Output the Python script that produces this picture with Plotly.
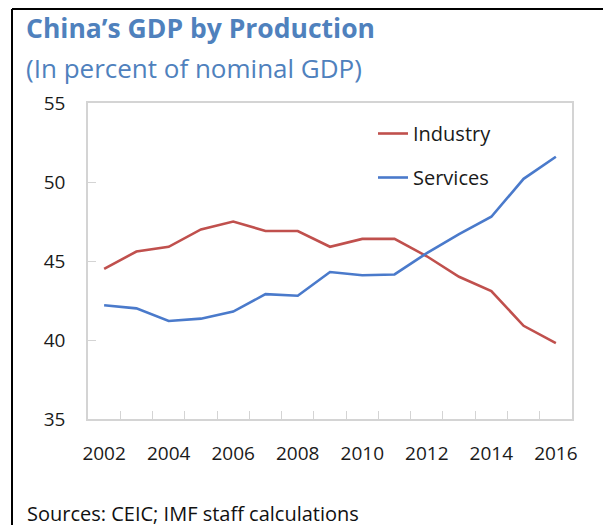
import plotly.graph_objects as go

years = list(range(2002, 2017))
industry = [44.5, 45.6, 45.9, 47.0, 47.5, 46.9, 46.9, 45.9, 46.4, 46.4, 45.3, 44.0, 43.1, 40.9, 39.8]
services = [42.2, 42.0, 41.2, 41.35, 41.8, 42.9, 42.8, 44.3, 44.1, 44.15, 45.5, 46.7, 47.8, 50.2, 51.6]
label_years = list(range(2002, 2017, 2))
boundaries = [y + 0.5 for y in range(2002, 2016)]

FONT = "Open Sans"
# the page body has an 8px margin, so the figure is sized to fit the window
OFF = 8
W, H = 611 - OFF, 527 - OFF
L, R, T, B = 80, 39, 95, 108
pw, ph = W - L - R, H - T - B


def px_x(p):
    # page pixel -> paper coordinate
    return (p - OFF - L) / pw


def px_y(p):
    return (H - B - (p - OFF)) / ph


fig = go.Figure()
fig.add_trace(go.Scatter(x=years, y=industry, mode='lines', name='Industry',
                         legendgroup='a', line=dict(color='#c0504d', width=2.6)))
fig.add_trace(go.Scatter(x=years, y=services, mode='lines', name='Services',
                         legendgroup='b', line=dict(color='#4a7acb', width=2.6)))

axis_gray = '#d4d4d4'
fig.update_layout(
    width=W, height=H,
    margin=dict(l=L, r=R, t=T, b=B),
    paper_bgcolor='white', plot_bgcolor='white',
    font=dict(family=FONT, size=19, color='#1a1a1a'),
    showlegend=True,
    legend=dict(x=px_x(373), y=px_y(114), xanchor='left', yanchor='top',
                bgcolor='rgba(0,0,0,0)', font=dict(size=20, color='#1a1a1a'),
                itemwidth=30, tracegroupgap=15),
    xaxis=dict(range=[2001.5, 2016.5], tickvals=label_years, ticks='',
               showgrid=False, zeroline=False, showline=True, mirror=True,
               linecolor=axis_gray, linewidth=1.5,
               minor=dict(tickvals=boundaries, ticks='inside', ticklen=8,
                          tickcolor=axis_gray, tickwidth=1.3, showgrid=False),
               tickfont=dict(size=19), ticklabelstandoff=16),
    yaxis=dict(range=[35, 55], dtick=5, ticks='inside', ticklen=8,
               tickcolor=axis_gray, tickwidth=1.3,
               showgrid=False, zeroline=False, showline=True, mirror=True,
               linecolor=axis_gray, linewidth=1.5,
               tickfont=dict(size=19), ticklabelstandoff=17),
)

fig.add_annotation(text="<b>China’s GDP by Production</b>", xref='paper', yref='paper',
                   x=px_x(24), y=px_y(28), xanchor='left', yanchor='middle',
                   showarrow=False, font=dict(size=26.5, color='#4f81bd', family=FONT))
fig.add_annotation(text="(In percent of nominal GDP)", xref='paper', yref='paper',
                   x=px_x(24), y=px_y(68), xanchor='left', yanchor='middle',
                   showarrow=False, font=dict(size=26, color='#4f81bd', family=FONT))
fig.add_annotation(text="Sources: CEIC; IMF staff calculations", xref='paper', yref='paper',
                   x=px_x(25), y=px_y(513), xanchor='left', yanchor='middle',
                   showarrow=False, font=dict(size=20, color='#111111', family=FONT))

# outer frame (top and left edges visible in the source)
fig.add_shape(type='line', xref='paper', yref='paper', x0=px_x(12), x1=px_x(640),
              y0=px_y(9), y1=px_y(9), line=dict(color='black', width=2))
fig.add_shape(type='line', xref='paper', yref='paper', x0=px_x(12), x1=px_x(12),
              y0=px_y(9), y1=px_y(525), line=dict(color='black', width=2))

fig.write_html("out.html")
